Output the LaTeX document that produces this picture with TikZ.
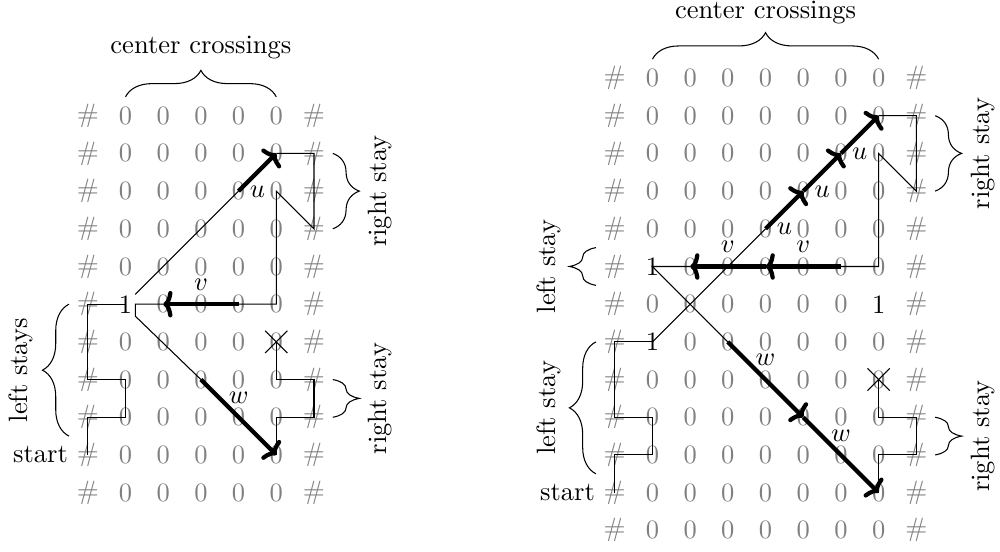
\documentclass[tikz,border=0pt]{standalone}
\usepackage{tikz}
\usetikzlibrary{calc,positioning,arrows.meta,decorations.pathreplacing,shapes.misc}
\tikzset{
	cell/.style={text=black!50, inner sep=1pt},
	move/.style={line width=1.6pt, -{To[length=3.5pt, width=10pt]}},
	stay/.style={decorate, decoration={brace, amplitude=10pt}},
	crossed/.style={cross out, draw, minimum size=8pt, inner sep=0pt}
}

\begin{document}
\begin{tikzpicture}[x=0.5cm, y=0.5cm]
			%%%%% START %%%%%
			
			\useasboundingbox (0,0) rectangle (26.53,-14.62);
			
			% left tape
			\foreach \j in {0,...,10}
			\foreach \i in {0,...,6}{
				\pgfmathtruncatemacro\edge{(\i==0)||(\i==6)}
				\pgfmathtruncatemacro\one{(\i==1)&&(\j==5)}
				\node[cell] (L-\i-\j) at (2.33+\i, -3.07-\j) {\ifnum\edge=1 \#\else\ifnum\one=1 \textcolor{black}{1}\else 0\fi\fi};
			}
			
			\draw (L-0-9.center) -- (L-0-8.center) -- (L-1-8.center) -- (L-1-7.center) -- (L-0-7.center) -- (L-0-5.center) -- (L-1-5.center);
			\draw (L-1-5) -- (L-4-2.center);
			\draw[move] (L-4-2.center) -- node[below=1pt] (uL) {$u$} (L-5-1.center);
			\draw (L-5-1.center) -- (L-6-1.center) -- (L-6-3.center) -- (L-5-2.center) -- (L-5-5.center) -- (L-4-5.center);
			\draw[move] (L-4-5.center) -- node[above=1pt] (vL) {$v$} (L-2-5.center);
			\draw (L-2-5.center) -- (L-1-5.east) -- (L-1-5.south east) -- (L-3-7.center);
			\draw[move] (L-3-7.center) -- node[above=1pt] (wL) {$w$} (L-5-9.center);
			\draw (L-5-9.center) -- (L-5-8.center) -- (L-6-8.center) -- (L-6-7.center) -- (L-5-7.center) -- (L-5-6.center);
			\node[crossed] (stopL) at (L-5-6) {};
			
			\draw[stay] ($(L-1-0.center)+(0,.5)$) -- ($(L-5-0.center)+(0,.5)$);
			\draw[stay] ($(L-6-1.center)+(.5,0)$) -- ($(L-6-3.center)+(.5,0)$);
			\draw[stay] ($(L-6-7.center)+(.5,0)$) -- ($(L-6-8.center)+(.5,0)$);
			\draw[stay] ($(L-0-8.center)+(-.5,-.5)$) -- ($(L-0-5.center)+(-.5,0)$);
			
			\node (centerL) at (5.33,-1.27) {center crossings};
			\node[rotate=90] (rightL1) at (10.08,-5.07) {right stay};
			\node[rotate=90] (rightL2) at (10.08,-10.57) {right stay};
			\node[rotate=90] (leftL) at (0.55,-9.82) {left stays};
			\node[left=4pt of L-0-9.center] (startL) {start};
			
			% right tape
			\foreach \j in {0,...,12}
			\foreach \i in {0,...,8}{
				\pgfmathtruncatemacro\edge{(\i==0)||(\i==8)}
				\pgfmathtruncatemacro\one{((\i==1)&&(\j==5))||((\i==7)&&(\j==6))||((\i==1)&&(\j==7))}
				\node[cell] (R-\i-\j) at (16.31+\i, -2.07-\j) {\ifnum\edge=1 \#\else\ifnum\one=1 \textcolor{black}{1}\else 0\fi\fi};
			}
			
			\draw (R-0-11.center) -- (R-0-10.center) -- (R-1-10.center) -- (R-1-9.center) -- (R-0-9.center) -- (R-0-7.center) -- (R-1-7.center);
			\draw (R-1-7.center) -- (R-4-4.center);
			\draw[move] (R-4-4.center) -- node[below=1pt] (uR1) {$u$} (R-5-3.center);
			\draw[move] (R-5-3.center) -- node[below=1pt] (uR2) {$u$} (R-6-2.center);
			\draw[move] (R-6-2.center) -- node[below=1pt] (uR3) {$u$} (R-7-1.center);
			\draw (R-7-1.center) -- (R-8-1.center) -- (R-8-3.center) -- (R-7-2.center) -- (R-7-5.center) -- (R-6-5.center);
			\draw[move] (R-6-5.center) -- node[above=1pt] (vR1) {$v$} (R-4-5.center);
			\draw[move] (R-4-5.center) -- node[above=1pt] (vR2) {$v$} (R-2-5.center);
			\draw (R-2-5.center) -- (R-1-5.center) -- (R-3-7.center);
			\draw[move] (R-3-7.center) -- node[above=1pt] (wR1) {$w$} (R-5-9.center);
			\draw[move] (R-5-9.center) -- node[above=1pt] (wR2) {$w$} (R-7-11.center);
			\draw (R-7-11.center) -- (R-7-10.center) -- (R-8-10.center) -- (R-8-9.center) -- (R-7-9.center) -- (R-7-8.center);
			\node[crossed] (stopR) at (R-7-8) {};
			
			\draw[stay] ($(R-1-0.center)+(0,.5)$) -- ($(R-7-0.center)+(0,.5)$);
			\draw[stay] ($(R-8-1.center)+(.5,0)$) -- ($(R-8-3.center)+(.5,0)$);
			\draw[stay] ($(R-8-9.center)+(.5,0)$) -- ($(R-8-10.center)+(.5,0)$);
			\draw[stay] ($(R-0-5.center)+(-.5,-.5)$) -- ($(R-0-5.center)+(-.5,.5)$);
			\draw[stay] ($(R-0-10.center)+(-.5,-.5)$) -- ($(R-0-7.center)+(-.5,0)$);
			
			\node (centerR) at (20.31,-0.32) {center crossings};
			\node[rotate=90] (rightR1) at (26.07,-4.07) {right stay};
			\node[rotate=90] (rightR2) at (26.07,-11.57) {right stay};
			\node[rotate=90] (leftR1) at (14.57,-7.07) {left stay};
			\node[rotate=90] (leftR2) at (14.57,-10.82) {left stay};
			\node[left=4pt of R-0-11.center] (startR) {start};
			
			%%%%% END %%%%%
\end{tikzpicture}
\end{document}
